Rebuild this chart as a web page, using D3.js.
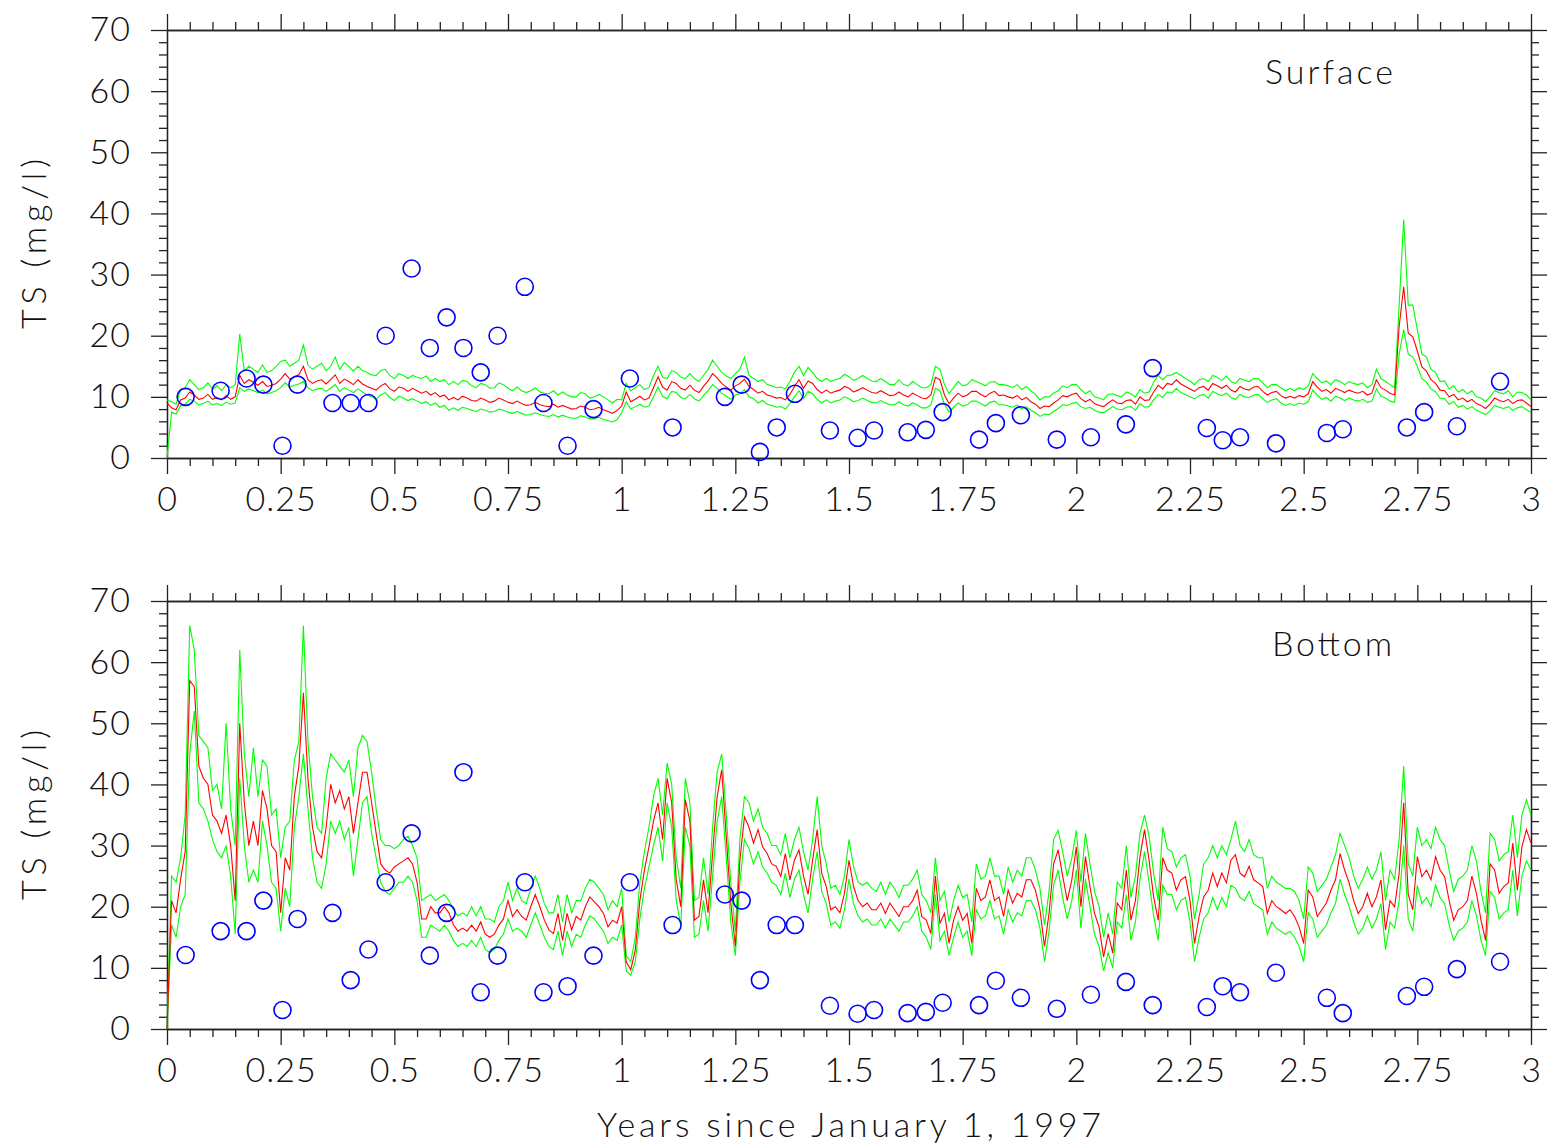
<!DOCTYPE html>
<html><head><meta charset="utf-8">
<script src="https://cdn.jsdelivr.net/npm/d3@7"></script>
<style>
body{margin:0;background:#fff}
text{font-family:Lato,"DejaVu Sans",sans-serif;font-weight:300;fill:#111}
.domain,.tick line{stroke:#222;stroke-width:1.3}
</style>
</head><body><svg id="c" width="1549" height="1146"></svg>
<script>
// ---- categories (time, years since Jan 1 1997, every 0.01 yr) ----
const timeGrid = d3.range(301).map(i => i / 100);
const xMajorTicks = [0,0.25,0.5,0.75,1,1.25,1.5,1.75,2,2.25,2.5,2.75,3];
const xTickLabels = ["0","0.25","0.5","0.75","1","1.25","1.5","1.75","2","2.25","2.5","2.75","3"];
const yMajorTicks = [0,10,20,30,40,50,60,70];
const yTickLabels = ["0","10","20","30","40","50","60","70"];

// ---- observations (blue circles) ----
const obsT = [0.041,0.118,0.175,0.212,0.254,0.287,0.364,0.404,0.443,0.481,0.538,0.578,0.615,0.652,0.690,0.727,0.787,0.828,0.881,0.938,1.018,1.112,1.227,1.264,1.304,1.341,1.381,1.458,1.519,1.555,1.629,1.669,1.706,1.786,1.823,1.878,1.957,2.032,2.109,2.168,2.287,2.322,2.360,2.439,2.551,2.586,2.727,2.765,2.837,2.932];
const obsSurface = [10,11,13,12,2,12,9,9,9,20,31,18,23,18,14,20,28,9,2,8,13,5,10,12,1,5,10.5,4.5,3.3,4.5,4.2,4.6,7.5,3,5.7,7,3,3.4,5.5,14.7,4.9,2.9,3.4,2.4,4.1,4.7,5,7.5,5.2,12.5];
const obsBottom = [12.1,16,16,21,3.1,18,19,8,13,24,32,12,19,42,6,12,24,6,7,12,24,17,22,21,8,17,17,3.8,2.5,3.1,2.6,2.8,4.3,3.9,7.9,5.1,3.3,5.6,7.7,3.9,3.6,7,6,9.2,5.1,2.6,5.4,6.9,9.8,11];

// ---- surface model ----
const topRed = [9,8.2,7.9,9.5,9.8,10.8,10.3,9.6,9.8,10.4,
9.6,9.9,9.5,10.2,9.6,10,13.5,12.2,12.8,12.4,
11.9,12.5,11.7,11.9,12.2,12.9,13.8,12.9,13.3,13.6,
15,12.8,12.2,12.6,12.8,12.1,12.8,13.6,12.2,12.9,
12.5,12,12.8,12.1,11.7,11.4,11.1,11.8,12.2,11.3,
10.9,11.6,11.4,10.9,11.4,11,10.6,10.9,10.3,10.7,
10,10.3,9.5,9.9,9.5,10.1,9.8,9.4,9.3,9.8,
9.5,9.1,9.3,9.8,9.5,9.1,8.9,9.3,8.9,8.6,
8.7,9.1,8.7,8.5,8.4,8.8,8.3,8.6,8.3,8.0,
8.1,8.5,8.3,7.9,8.0,8.3,7.9,7.6,7.3,7.8,
8.5,10.8,9.2,9.6,10.1,9.5,9.8,11.5,13.3,11.6,
11.1,12.5,12.2,11.4,11.1,11.9,11.1,10.7,11.7,12.6,
13.8,13.1,12.2,11.6,11.1,11.8,12.2,12.9,11.7,11.2,
10.6,10.9,10.3,10.1,9.8,9.9,9.5,10.4,11.7,12.8,
11.4,12.6,12.2,11.2,10.6,11.1,10.6,10.9,11.1,11.7,
11.4,10.8,11.1,11.5,11.1,10.7,10.6,11.0,10.6,10.2,
10.3,10.8,10.3,10.0,10.6,10.2,9.8,9.7,10.3,13.2,
12.8,10.3,8.9,9.8,10.6,10.0,10.3,10.9,10.9,10.4,
10.0,10.6,10.9,10.2,10.3,10.0,9.8,10.2,9.5,9.9,
9.2,8.8,8.1,8.5,8.4,9.0,9.5,10.2,10.0,10.4,
10.6,9.7,9.2,9.6,8.9,8.6,8.4,9.0,9.5,9.0,
8.9,9.4,9.5,8.8,10,9.4,9.5,10.8,11.9,11.3,
12.2,12.0,12.8,12.1,11.7,11.3,10.9,11.5,11.7,11.1,
12.2,11.8,11.4,11.9,11.1,10.8,11.7,11.3,11.1,11.6,
11.7,10.9,10.3,10.7,10.9,10.2,9.8,10.1,9.8,10.2,
10,10.5,12.5,11.6,10.9,11.2,10.6,11.4,11.1,10.7,
11.1,10.8,10.6,10.9,10.3,10.6,12.8,11.5,11.1,10.6,
10.3,21.5,28,20.4,19.8,17.5,14.9,14.2,12.8,12.2,
11.1,11.0,10,10.4,9.5,9.8,9.2,9.6,8.9,8.6,
8.1,8.8,9.8,9.4,9.2,9.6,8.9,9.4,9.5,9.0,
8.4];
const topUp = [9.5,9.2,8.8,11.2,11.5,12.8,12,11.2,11.5,12.3,
11.2,11.8,11,12,11.5,12,20.3,14.2,15,14.5,
14,15.2,14,14.3,15,15.8,16,15,15.5,16,
18.5,15.2,14.5,15,15.5,14.3,15,16.5,14.5,15.6,
15,14.2,15,14.3,14,13.6,13.5,14.3,14.5,13.5,
13,13.8,13.5,13,13.5,13.2,13,13.4,12.5,13,
12.5,12.8,12,12.5,12,12.7,12.5,11.8,11.5,12.2,
12,11.4,11.5,12.3,12,11.4,11,11.6,11,10.7,
11,11.5,10.8,10.6,10.5,11,10.3,10.8,10.3,10,
10,10.7,10.5,9.8,10,10.4,10,9.5,9,9.6,
9.5,12.2,11,11.5,12,11.2,11.5,13.5,15,13.2,
13,14.3,14,13.2,13,13.8,13,12.5,13.5,14.5,
16,15,14,13.4,13,13.8,14.5,16.5,13.5,13,
12.5,12.8,12,11.8,11.5,11.6,11.3,12.5,14,15,
13.5,14.8,14,13,12.5,13,12.5,12.8,13,13.7,
13.3,12.7,13,13.5,13,12.6,12.5,13,12.5,12,
12,12.8,12,11.8,12.5,12,11.5,11.5,12,15,
14.5,12,10.5,11.5,12.5,11.8,12,12.8,12.5,12.2,
11.8,12.4,12.5,12,12,11.8,11.5,12,11.2,11.7,
11,10.4,9.5,10,10,10.6,11,11.8,11.5,12,
12,11.2,10.5,11,10,9.8,9.5,10.4,10.5,10.2,
10,10.8,10.5,10,11.2,10.6,10.8,12.4,13.5,12.8,
13.5,13.6,14,13.5,13,12.6,12,12.8,13,12.5,
13.5,13.2,12.7,13.4,12.5,12.2,13,12.7,12.5,13,
13,12.3,11.5,12,12,11.5,11,11.4,11,11.5,
11.2,11.8,13.8,13,12.3,12.6,12,12.8,12.5,12,
12.5,12.2,12,12.3,11.5,12,14.5,13,12.5,12,
11.5,25,39,25,25,21,17,16.5,14.5,14,
12.5,12.6,11.3,11.8,10.8,11.2,10.5,11,10,9.8,
9.2,10,11,10.7,10.5,11,10,10.8,10.7,10.3,
9.5];
const topLo = [0,7.5,7.2,8.6,8.8,9.6,9.3,8.7,8.9,9.3,
8.7,8.9,8.6,9.1,8.8,9,11.5,10.9,11.3,11,
10.7,11.1,10.5,10.7,11,11.5,12.3,11.6,11.9,12.1,
12.5,11.5,11,11.3,11.4,10.9,11.4,12,10.9,11.5,
11.1,10.7,11.3,10.8,10.3,10,9.6,10.3,10.7,9.9,
9.4,10.1,9.8,9.4,9.7,9.3,8.9,9.2,8.6,9,
8.3,8.6,7.8,8.2,7.8,8.3,8.1,7.8,7.6,8,
7.8,7.5,7.6,8,7.8,7.5,7.3,7.6,7.3,7,
7.1,7.4,7.1,6.9,6.8,7.1,6.7,7,6.7,6.5,
6.5,6.9,6.7,6.4,6.4,6.7,6.3,6.1,5.9,6.3,
7.4,9.2,8,8.4,8.8,8.3,8.5,10,11.6,10.1,
9.7,10.9,10.7,9.9,9.7,10.4,9.7,9.3,10.2,11,
12,11.4,10.6,10.1,9.6,10.3,10.5,11.2,10,9.7,
9,9.4,8.8,8.6,8.3,8.4,8,8.9,10,11,
9.7,10.9,10.5,9.6,9,9.5,9,9.3,9.5,10,
9.7,9.2,9.4,9.8,9.4,9.1,9,9.4,9,8.7,
8.7,9.2,8.7,8.5,9,8.7,8.2,8.2,8.7,11.4,
11,8.8,7.5,8.3,9,8.5,8.7,9.3,9.3,8.9,
8.5,9.1,9.3,8.7,8.7,8.5,8.3,8.7,8,8.4,
7.8,7.4,6.8,7.2,7.1,7.6,8.1,8.7,8.6,8.9,
9.1,8.4,8.1,8.3,7.8,7.5,7.4,7.9,8.4,8,
7.9,8.3,8.4,7.8,8.9,8.3,8.4,9.5,10.4,9.9,
10.8,10.6,11.4,10.7,10.4,10,9.7,10.2,10.4,9.8,
10.9,10.5,10.2,10.6,9.9,9.6,10.4,10,9.9,10.3,
10.4,9.7,9.1,9.5,9.7,9,8.6,8.9,8.6,9,
8.8,9.2,11.1,10.3,9.6,9.9,9.3,10.1,9.8,9.4,
9.8,9.5,9.3,9.6,9.1,9.3,11.3,10.1,9.8,9.3,
9.1,17,21,17,16.5,15,13,12.4,11.3,10.8,
9.8,9.7,8.8,9.2,8.3,8.6,8,8.4,7.8,7.5,
7.1,7.7,8.6,8.3,8.1,8.4,7.8,8.2,8.4,7.9,
7.5];

// ---- bottom model ----
const botRed = [0,21,19,24.5,29,57,56,43,41,40,
35,34,32,35,30,21,50,37,30,34,
30,39,36,30,29,19,28,26,38,43,
55,41,33,29,28,33,40,37,39,36,
38,32,37,42,42,37,32,27,26,25.5,
26.5,27,27.5,28,27,24,18,18,20,19,
19,20,19,17,16,16.5,16,17,16,17.5,
15.5,15,15.5,17,18,21,18.4,19.5,18.4,17.8,
20,22,20,17.8,16.2,15.6,18.9,14.5,18.9,16.2,
18.4,17.8,20,21.6,20.8,20,18.9,16.7,17.8,17.3,
20,11,9.7,12.9,21,26,29.8,34,37,31,
41,37,24.4,20,37.5,34,17.8,18.4,24.4,19,
28.7,38,42.4,31.5,20.6,13.5,27.6,34.7,33,30.4,
32.6,29.8,28.7,27,26.6,25,28.7,24.4,27.6,29.3,
25,22,27.6,32.6,25.5,23.3,19.5,20,19,22.2,
27.6,23.3,21,20,20.6,19.5,19.5,20.6,18.9,20.6,
19.5,18.4,20,20,21,22.7,18.4,17.8,15.6,25,
17.3,18.9,14,17.8,20,17.8,18.9,14,23,21,
21.6,24.4,21,21.6,18.4,22.7,20.6,22.2,21.6,24.4,
24.4,22.7,19.5,13.5,18.9,27,29.3,25,21,24.4,
29.8,20,28.2,23.3,18.9,16.7,11.8,15.6,12.4,20.6,
19.5,26,17.8,21,28.2,32.6,27.6,21.6,17.8,28,
26,25.5,22.7,24.4,24.9,21,14,18.4,21.6,22.7,
25.5,23.3,25.5,23.9,27.6,28.5,25.5,24.9,26.6,24.4,
23.9,23.3,18.9,21,20,19.5,18.9,19.5,18.4,16.7,
14,22.7,21.6,18.4,19.5,20.6,22.7,24.4,28.7,26,
23.9,21,18.9,20,22.2,20,21.6,24.4,16.2,21,
20,25.5,37,22,19.5,28.2,24.9,26,24.4,28.2,
26,24.9,21,17.8,19.5,20,21,25,22.2,17.8,
14.5,27,26,22.2,23.3,23.9,30.4,22.7,29.8,32.6,
30.4];
const botUp = [0,25,24,28,35,66,62,48,47,46,
39,40,36,50,36,30,62,45,38,46,
38,44,43,35,36,28,33,34,44,47,
66,47,38,33,32,41,45,44,43,42,
44,38,46,48,47,42,36,31,30,30,
29.5,30,31,31.5,30,28,21,21.5,22,21,
21.5,22,21,19.5,18.5,19,18.5,20,18.5,20,
18,18,17.5,20,21,24,21,23,21,20.5,
23,25,23,20.5,19,19,22,17.5,22,19,
21,21,23,24.5,24,23,22,19.5,21,20,
23,12,11,15,24,29,33,38,41,35,
43.5,40,28,23,41,37,21,21.5,28,22,
33,42,45,35,24,16,31,38,37,34,
36,33,32,30,30,28.5,32,28,31,33,
29,26,31,38,30,27,23,23.5,22,25,
31,26.5,24,23.5,24,23,22.5,24,22,24,
23,21.5,23.5,23.5,24.5,26,22,21,19,28,
21,22.5,17.5,21,23.5,21.5,22,17.5,27,24.5,
25,28,25,25,22,26.5,24,26,25,28,
28,26,23,17,22.5,31,32.5,29,25,28,
32.5,24,32,27,22.5,20,15,19,15.5,24,
23,30,21.5,25,32,35,31.5,25.5,21,33,
29.5,29,26.5,28,28.5,25,18,22,27,28,
30,28,30,28.5,31,34,30,29,31,28.5,
28,28,23,25,24,23.5,23,23,22.5,21,
18,26.5,25.5,22.5,23.5,24.5,26.5,28.5,32,30,
28,25,23,24.5,26.5,24.5,26,29,21,26,
24.5,31,43,27,25,33,30,31,29.5,33,
31,30,26,22.5,24.5,25,26,30,27.5,22.5,
19,32,31,27.5,28.5,29,35,28,35,37.5,
35];
const botLo = [0,17,15,20,22,45,52,37,36,34,
31,29,28,30,25,15.5,41,30,24,26,
24,34,30,24,23,16,23,20,33,38,
45,36,28,24,23,27,34,32,34,31,
33,25,31,37,38,32,28,24,22.5,22,
23,24,24,25,24,21,15,15,17,16.5,
16,17,16,14.5,13.5,14,13.5,14.5,13.5,15,
13,12.5,13,14.5,15.5,18,16,16.5,16,15,
17,19,17,15,13.5,13,16,12,16,13.5,
15.5,15,17,18.5,18,17,16,14,15,14.5,
17,9.5,8.8,11,18,23,26.5,30,33,27.5,
37,33,21,17,33,30,15,15.5,21,16,
25,34,38,28,17.5,12,24,31,29.5,27,
29,26.5,25.5,24,23.5,22,25.5,21.5,24.5,26,
22,19,24.5,29,22.5,20.5,17,17.5,16.5,19.5,
24.5,20.5,18.5,17.5,18,17,17,18,16.5,18,
17,16,17.5,17.5,18.5,20,16,15,13,22,
14.5,16,12,15,17.5,15,16,12,19.5,18,
18.5,21,18,18.5,15.5,19.5,17.5,19,18.5,21,
21,19.5,16.5,11,16,23.5,26,21.5,18,21,
26,16.5,24.5,20,15.5,13.5,9.5,12.5,10,17.5,
16.5,22,14.5,17.5,24.5,29,24,18.5,14.5,23.5,
22,22,19.5,21,21.5,17.5,11,15,18,19,
21.5,19.5,21.5,20,23.5,23,21.5,21,22.5,20.5,
20,19.5,15.5,17.5,16.5,16,15.5,16,15,13.5,
11,19,18,15,16,17,19,20.5,24.5,22,
20,17.5,15.5,16.5,18.5,16.5,18,20.5,13,17.5,
16.5,21,30,18,16,23.5,20.5,21.5,20,23.5,
21.5,20.5,17,14.5,16,16.5,17.5,21,18.5,14.5,
12,22.5,21.5,18,19,19.5,26,18.5,25,27.5,
26];

// ---- drawing ----
const svg = d3.select("#c");
const x = d3.scaleLinear().domain([0, 3]).range([167, 1531]);
const xMinor = d3.range(61).map(i => i * 0.05).filter(v => Math.abs(v * 4 - Math.round(v * 4)) > 1e-6);
const yMinor = d3.range(36).map(i => i * 2).filter(v => v % 10 !== 0);
const fmtX = d => xTickLabels[xMajorTicks.indexOf(d)];
const fmtY = d => yTickLabels[yMajorTicks.indexOf(d)];

const panels = [
  {top: 30, bottom: 458, red: topRed, up: topUp, lo: topLo, obs: obsSurface, label: "Surface", lx: 1265, ly: 84, lw: 128},
  {top: 601, bottom: 1029, red: botRed, up: botUp, lo: botLo, obs: obsBottom, label: "Bottom", lx: 1272, ly: 656, lw: 120}
];

panels.forEach(p => {
  const y = d3.scaleLinear().domain([0, 70]).range([p.bottom, p.top]);
  const g = svg.append("g");
  const add = (axis, tr) => g.append("g").attr("transform", tr).call(axis);
  // minor ticks
  add(d3.axisBottom(x).tickValues(xMinor).tickSize(8).tickSizeOuter(0).tickFormat(""), `translate(0,${p.bottom})`);
  add(d3.axisTop(x).tickValues(xMinor).tickSize(8).tickSizeOuter(0).tickFormat(""), `translate(0,${p.top})`);
  add(d3.axisLeft(y).tickValues(yMinor).tickSize(8).tickSizeOuter(0).tickFormat(""), `translate(167,0)`);
  add(d3.axisRight(y).tickValues(yMinor).tickSize(8).tickSizeOuter(0).tickFormat(""), `translate(1531,0)`);
  // major ticks
  add(d3.axisBottom(x).tickValues(xMajorTicks).tickSize(16).tickSizeOuter(0).tickPadding(13).tickFormat(fmtX), `translate(0,${p.bottom})`);
  add(d3.axisTop(x).tickValues(xMajorTicks).tickSize(16).tickSizeOuter(0).tickFormat(""), `translate(0,${p.top})`);
  add(d3.axisLeft(y).tickValues(yMajorTicks).tickSize(16).tickSizeOuter(0).tickPadding(20).tickFormat(fmtY), `translate(167,0)`);
  add(d3.axisRight(y).tickValues(yMajorTicks).tickSize(16).tickSizeOuter(0).tickFormat(""), `translate(1531,0)`);
  g.selectAll(".tick text").attr("font-size", 34).attr("font-family", null).style("letter-spacing", "1px");

  const line = d3.line().x((d, i) => x(timeGrid[i])).y(d => y(d));
  g.append("path").datum(p.up).attr("d", line).attr("fill", "none").attr("stroke", "#00ff00").attr("stroke-width", 1.1);
  g.append("path").datum(p.lo).attr("d", line).attr("fill", "none").attr("stroke", "#00ff00").attr("stroke-width", 1.1);
  g.append("path").datum(p.red).attr("d", line).attr("fill", "none").attr("stroke", "#ff0000").attr("stroke-width", 1.1);

  g.selectAll("circle.obs").data(p.obs).join("circle").attr("class", "obs")
    .attr("cx", (d, i) => x(obsT[i])).attr("cy", d => y(d)).attr("r", 8.5)
    .attr("fill", "none").attr("stroke", "#0000ff").attr("stroke-width", 1.6);

  g.append("text").attr("x", p.lx).attr("y", p.ly).attr("font-size", 34)
    .attr("textLength", p.lw).attr("lengthAdjust", "spacing").text(p.label);

  g.append("text").attr("transform", `translate(46,${(p.top + p.bottom) / 2}) rotate(-90)`)
    .attr("text-anchor", "middle").attr("font-size", 34)
    .attr("textLength", 170).attr("lengthAdjust", "spacing").text("TS (mg/l)");
});

svg.append("text").attr("x", 849).attr("y", 1137).attr("text-anchor", "middle")
  .attr("font-size", 34).attr("textLength", 504).attr("lengthAdjust", "spacing")
  .text("Years since January 1, 1997");
</script>
</body></html>
